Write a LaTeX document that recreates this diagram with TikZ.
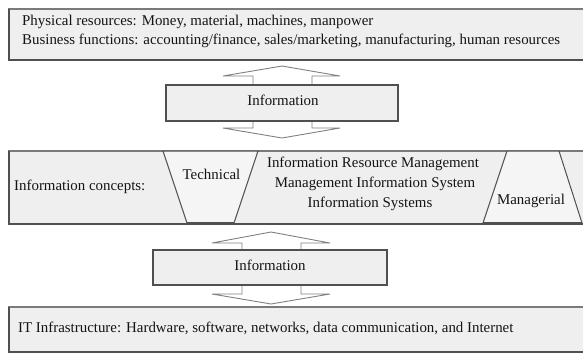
\documentclass[tikz,border=0pt]{standalone}
\usepackage{fontspec}
\setmainfont{Liberation Serif}
\definecolor{boxgray}{HTML}{EFEFEF}
\definecolor{trapfill}{HTML}{F5F5F5}
\definecolor{edgedark}{HTML}{505050}
\definecolor{edgelight}{HTML}{7A7A7A}
\definecolor{arrowline}{HTML}{808080}
\begin{document}
\begin{tikzpicture}[x=1pt,y=-1pt,
  font=\fontsize{14.9}{19}\selectfont,
  txt/.style={inner sep=0pt, text height=0.68em, text depth=0.22em, text=black!92},
  bigbox/.style={fill=boxgray, draw=edgelight, line width=1.1pt},
  infobox/.style={fill=boxgray, draw=edgedark, line width=1.1pt},
  bottomedge/.style={draw=edgedark, line width=2pt},
  trap/.style={fill=trapfill, draw=edgedark, line width=1pt, line join=miter},
  blockarrow/.style={fill=white, draw=arrowline, line width=0.9pt, line join=miter}]
\useasboundingbox (0,0) rectangle (583,354);
\clip (0,0) rectangle (583,354);

% ---------- top box ----------
\path[bigbox] (9,9) rectangle (600,60);
\draw[bottomedge] (8,60) -- (600,60);
\draw[bottomedge, line width=1.4pt] (9,9) -- (9,60);
\node[txt, anchor=west] (phys) at (22,23) {Physical resources: Money, material, machines, manpower};
\node[txt, anchor=west] (bus) at (22,42) {Business functions: accounting/finance, sales/marketing, manufacturing, human resources};

% ---------- upper information box with arrows ----------
\path[blockarrow] (253,85) -- (253,76) -- (223,76) -- (282,66) -- (340,76) -- (312,76) -- (312,85);
\path[blockarrow] (253,121) -- (253,128) -- (223,128) -- (282,138) -- (340,128) -- (312,128) -- (312,121);
\path[infobox] (166,85) rectangle (398,121);
\draw[bottomedge] (165.5,121) -- (398.5,121);
\node[txt] (info1) at (283,103) {Information};

% ---------- middle box ----------
\path[bigbox] (9,151) rectangle (600,224);
\draw[bottomedge] (8,224) -- (600,224);
\draw[bottomedge, line width=1.4pt] (9,151) -- (9,224);
\path[trap] (163,151) -- (258,151) -- (234,223) -- (187,223) -- cycle;
\draw[bottomedge, line width=1.6pt] (187,223) -- (234,223);
\path[trap] (507,151) -- (559,151) -- (582,223) -- (483,223) -- cycle;
\draw[bottomedge, line width=1.6pt] (483,223) -- (582,223);
\node[txt, anchor=west] (concepts) at (14,188) {Information concepts:};
\node[txt] (tech) at (211.5,177) {Technical};
\node[txt] (manag) at (531,202) {Managerial};
\node[txt] (irm) at (373,165) {Information Resource Management};
\node[txt] (mis) at (375,185) {Management Information System};
\node[txt] (is) at (370,205) {Information Systems};

% ---------- lower information box with arrows ----------
\path[blockarrow] (242,250) -- (242,243) -- (212,243) -- (271,232) -- (330,243) -- (301,243) -- (301,250);
\path[blockarrow] (242,285) -- (242,294) -- (212,294) -- (271,304) -- (330,294) -- (301,294) -- (301,285);
\path[infobox] (153,250) rectangle (387,285);
\draw[bottomedge] (152.5,285) -- (387.5,285);
\node[txt] (info2) at (270,268) {Information};

% ---------- bottom box ----------
\path[bigbox] (9,307) rectangle (600,352);
\draw[bottomedge] (8,352) -- (600,352);
\draw[bottomedge, line width=1.4pt] (9,307) -- (9,352);
\node[txt, anchor=west] (itinf) at (18,330) {IT Infrastructure: Hardware, software, networks, data communication, and Internet};
\end{tikzpicture}
\end{document}
